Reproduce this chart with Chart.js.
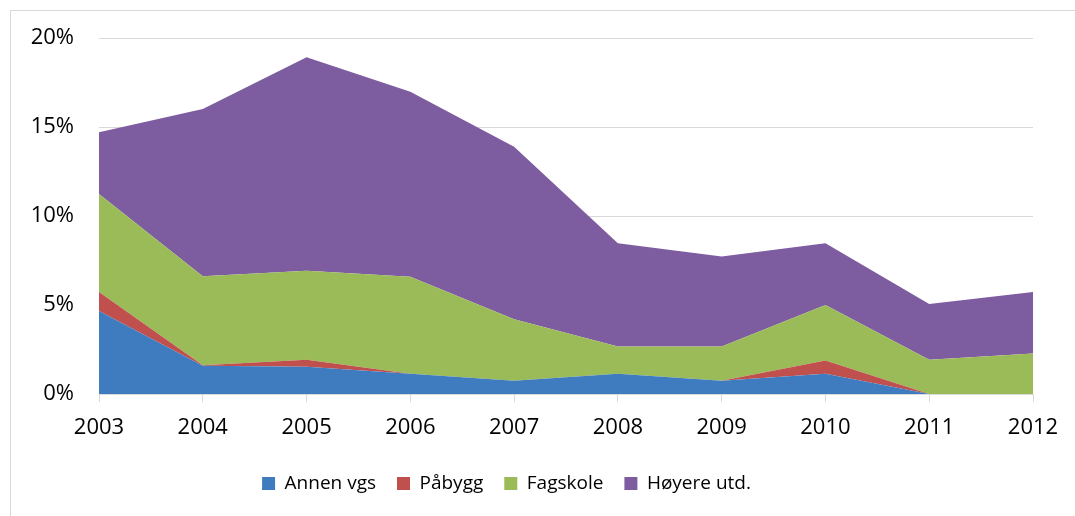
<!DOCTYPE html>
<html>
<head>
<meta charset="utf-8">
<script src="https://cdn.jsdelivr.net/npm/chart.js@4/dist/chart.umd.min.js"></script>
<style>
  html, body { margin: 0; padding: 0; background: #fff; }
  #wrap { position: relative; width: 1075px; height: 516px; }
  #frame { position: absolute; left: 10px; top: 10px; right: -5px; bottom: -5px; border-left: 1px solid #d9d9d9; border-top: 1px solid #d9d9d9; pointer-events: none; }
</style>
</head>
<body>
<div id="wrap">
  <canvas id="chart" width="1075" height="516"></canvas>
  <div id="frame"></div>
</div>
<script>
// År
const years = ['2003', '2004', '2005', '2006', '2007', '2008', '2009', '2010', '2011', '2012'];

// Andel (%) per kategori
const annenVgs = [4.66, 1.59, 1.53, 1.14, 0.74, 1.14, 0.74, 1.14, 0, 0];
const paabygg = [1.08, 0.03, 0.4, 0, 0, 0, 0, 0.74, 0, 0];
const fagskole = [5.5, 5.0, 5.0, 5.45, 3.46, 1.53, 1.93, 3.12, 1.93, 2.27];
const hoyereUtd = [3.47, 9.4, 12.0, 10.4, 9.7, 5.8, 5.06, 3.47, 3.13, 3.47];

const yTicks = [0, 5, 10, 15, 20];

const tickFont = { family: 'Open Sans', size: 22 };
const legendFont = { family: 'Open Sans', size: 19 };

function area(label, data, color, fill) {
  return {
    label: label,
    data: data,
    backgroundColor: color,
    borderColor: color,
    borderWidth: 0,
    pointRadius: 0,
    fill: fill,
    tension: 0
  };
}

// legenden litt mot venstre, som i originalen
const shiftLegend = {
  id: 'shiftLegend',
  afterLayout(chart) {
    chart.legend.left -= 10;
    chart.legend.right -= 10;
  }
};

new Chart(document.getElementById('chart'), {
  type: 'line',
  data: {
    labels: years,
    datasets: [
      area('Annen vgs', annenVgs, '#3f7cbf', 'origin'),
      area('Påbygg', paabygg, '#c0504d', '-1'),
      area('Fagskole', fagskole, '#9bbb59', '-1'),
      area('Høyere utd.', hoyereUtd, '#7d5ca0', '-1')
    ]
  },
  plugins: [shiftLegend],
  options: {
    responsive: false,
    animation: false,
    layout: { padding: { top: 38, right: 42, left: 0, bottom: 13 } },
    plugins: {
      legend: {
        position: 'bottom',
        labels: {
          font: legendFont,
          color: '#000',
          boxWidth: 13,
          boxHeight: 13,
          padding: 21
        }
      },
      tooltip: { enabled: false }
    },
    scales: {
      x: {
        offset: false,
        grid: { drawOnChartArea: false, drawTicks: true, tickLength: 8, color: '#d9d9d9' },
        border: { color: '#d9d9d9', width: 1 },
        ticks: { font: tickFont, color: '#000', padding: 13, maxRotation: 0 },
        afterFit: s => { s.height = 59; }
      },
      y: {
        stacked: true,
        min: 0,
        max: 20,
        afterBuildTicks: s => { s.ticks = yTicks.map(v => ({ value: v })); },
        grid: { color: '#d9d9d9', drawTicks: false },
        border: { display: false },
        ticks: { font: tickFont, color: '#000', padding: 25, callback: v => v + '%' },
        afterFit: s => { s.width = 99; }
      }
    }
  }
});
</script>
</body>
</html>
